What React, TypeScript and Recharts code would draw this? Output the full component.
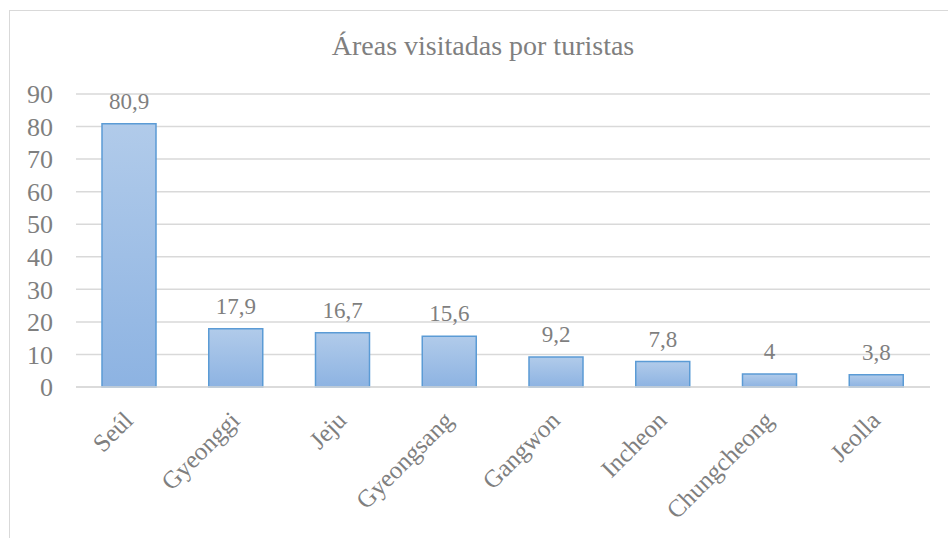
import React from 'react';
import { BarChart, Bar, XAxis, YAxis, CartesianGrid, LabelList } from 'recharts';

const regions = ['Seúl', 'Gyeonggi', 'Jeju', 'Gyeongsang', 'Gangwon', 'Incheon', 'Chungcheong', 'Jeolla'];
const visitShare = [80.9, 17.9, 16.7, 15.6, 9.2, 7.8, 4, 3.8];
const yTicks = [0, 10, 20, 30, 40, 50, 60, 70, 80, 90];

const chartData = regions.map((name, i) => ({ name, value: visitShare[i] }));

const FONT = '"Liberation Serif", "Times New Roman", serif';
const TEXT = '#7f7f7f';

const fmt = (v: number) => String(v).replace('.', ',');

const CategoryTick = ({ x, y, payload }: any) => (
  <g transform={`translate(${x + 5},${y + 33})`}>
    <text x={0} y={0} textAnchor="end" transform="rotate(-45)" fill={TEXT} fontSize={25} fontFamily={FONT}>
      {payload.value}
    </text>
  </g>
);

const ValueLabel = ({ x, y, width, value }: any) => (
  <text x={x + width / 2} y={y - 15} textAnchor="middle" fill={TEXT} fontSize={23} fontFamily={FONT}>
    {fmt(value)}
  </text>
);

export default function App() {
  return (
    <div style={{ position: 'fixed', inset: 0, overflow: 'hidden', background: '#fff' }}>
      {/* chart frame, cropped at the right and bottom like the screenshot */}
      <div
        style={{
          position: 'absolute', left: 9, top: 10, width: 1000, height: 600,
          border: '1.5px solid #d9d9d9', boxSizing: 'border-box',
        }}
      />
      <div
        style={{
          position: 'absolute', left: 0, top: 32, width: 966, textAlign: 'center',
          fontFamily: FONT, fontSize: 28, lineHeight: '27px', color: TEXT,
        }}
      >
        Áreas visitadas por turistas
      </div>
      <div style={{ position: 'absolute', left: 0, top: 0 }}>
        <BarChart width={948} height={538} data={chartData} margin={{ top: 94, right: 18, bottom: 0, left: 0 }}>
          <defs>
            <linearGradient id="barFill" x1="0" y1="0" x2="0" y2="1">
              <stop offset="0%" stopColor="#b1cbea" />
              <stop offset="100%" stopColor="#8db3e2" />
            </linearGradient>
          </defs>
          <CartesianGrid vertical={false} stroke="#d9d9d9" strokeWidth={1.5} />
          <XAxis
            dataKey="name"
            interval={0}
            height={151}
            axisLine={{ stroke: '#d9d9d9', strokeWidth: 1.5 }}
            tickLine={false}
            tickSize={0}
            tick={<CategoryTick />}
          />
          <YAxis
            domain={[0, 90]}
            ticks={yTicks}
            interval={0}
            width={76}
            axisLine={false}
            tickLine={false}
            tickSize={0}
            tickMargin={23}
            tick={{ fill: TEXT, fontSize: 26, fontFamily: FONT }}
          />
          <Bar dataKey="value" barSize={54} fill="url(#barFill)" stroke="#5b9bd5" strokeWidth={1.5} isAnimationActive={false}>
            <LabelList dataKey="value" content={<ValueLabel />} />
          </Bar>
        </BarChart>
      </div>
    </div>
  );
}
